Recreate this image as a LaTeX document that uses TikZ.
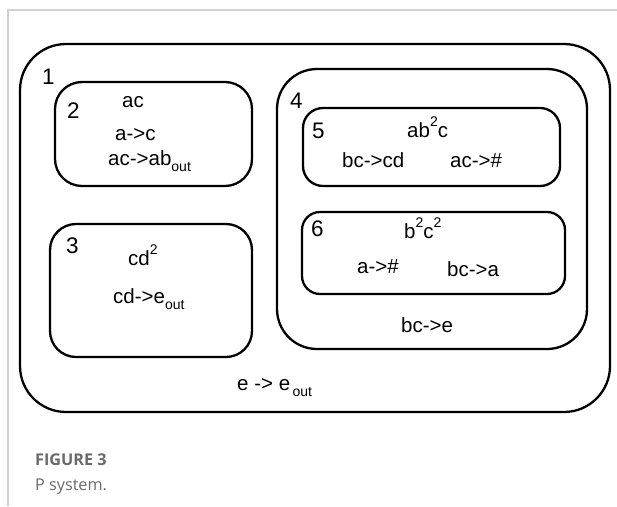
\documentclass[tikz,border=0pt]{standalone}
\usepackage{fontspec}
\setmainfont{Liberation Sans}
\newfontfamily\captionfont{Open Sans}
\definecolor{framegray}{HTML}{D2D2D2}
\definecolor{captiongray}{HTML}{6A6A6A}
% raised / lowered small text for exponents and "out" indices
\newcommand{\hitxt}[1]{\raisebox{0.52em}{\fontsize{14}{14}\selectfont #1}}
\newcommand{\lotxt}[1]{\raisebox{-0.3em}{\fontsize{14}{14}\selectfont #1}}
\begin{document}
\begin{tikzpicture}[x=1pt,y=-1pt,
  membrane/.style={draw=black,line width=2.3pt},
  lbl/.style={anchor=base west,inner sep=0pt,font=\fontsize{20.5}{24}\selectfont},
  num/.style={anchor=base west,inner sep=0pt,font=\fontsize{22.5}{26}\selectfont},
  captxt/.style={anchor=base west,inner sep=0pt,text=captiongray}]
\useasboundingbox (0,0) rectangle (617,506);
% page frame
\draw[framegray,line width=1.4pt] (617,10) -- (8,10) -- (8,506);
% membranes
\draw[membrane,rounded corners=46pt] (20,44) rectangle (610,412);
\draw[membrane,rounded corners=27pt] (55,82) rectangle (252,186);
\draw[membrane,rounded corners=26pt] (50,224) rectangle (252,357);
\draw[membrane,rounded corners=40pt] (277,69) rectangle (587,349);
\draw[membrane,rounded corners=20pt] (303,108) rectangle (560,186);
\draw[membrane,rounded corners=18pt] (302,212) rectangle (565,294);
% membrane 1
\node[num] (n1) at (42,84) {1};
\node[lbl] (r1) at (237,390) {e -> e\hspace{0.12em}\lotxt{out}};
% membrane 2
\node[num] (n2) at (67,118) {2};
\node[lbl] (w2) at (122,107) {ac};
\node[lbl] (r2a) at (115,140) {a->c};
\node[lbl] (r2b) at (108,165) {ac->ab\lotxt{out}};
% membrane 3
\node[num] (n3) at (66,253) {3};
\node[lbl] (w3) at (128,265) {cd\hitxt{2}};
\node[lbl] (r3) at (113,303) {cd->e\lotxt{out}};
% membrane 4
\node[num] (n4) at (290,108) {4};
\node[lbl] (r4) at (401,332) {bc->e};
% membrane 5
\node[num] (n5) at (312,138) {5};
\node[lbl] (w5) at (407,137) {ab\hitxt{2}c};
\node[lbl] (r5a) at (342,167) {bc->cd};
\node[lbl] (r5b) at (450,167) {ac->\#};
% membrane 6
\node[num] (n6) at (311,236) {6};
\node[lbl] (w6) at (404,238) {b\hitxt{2}c\hitxt{2}};
\node[lbl] (r6a) at (357,273) {a->\#};
\node[lbl] (r6b) at (447,276) {bc->a};
% caption
\node[captxt,font=\captionfont\bfseries\fontsize{16.2}{20}\selectfont] (fig) at (35,465) {FIGURE 3};
\node[captxt,font=\captionfont\fontsize{16.2}{20}\selectfont] (cap) at (35,490) {P system.};
\end{tikzpicture}
\end{document}
